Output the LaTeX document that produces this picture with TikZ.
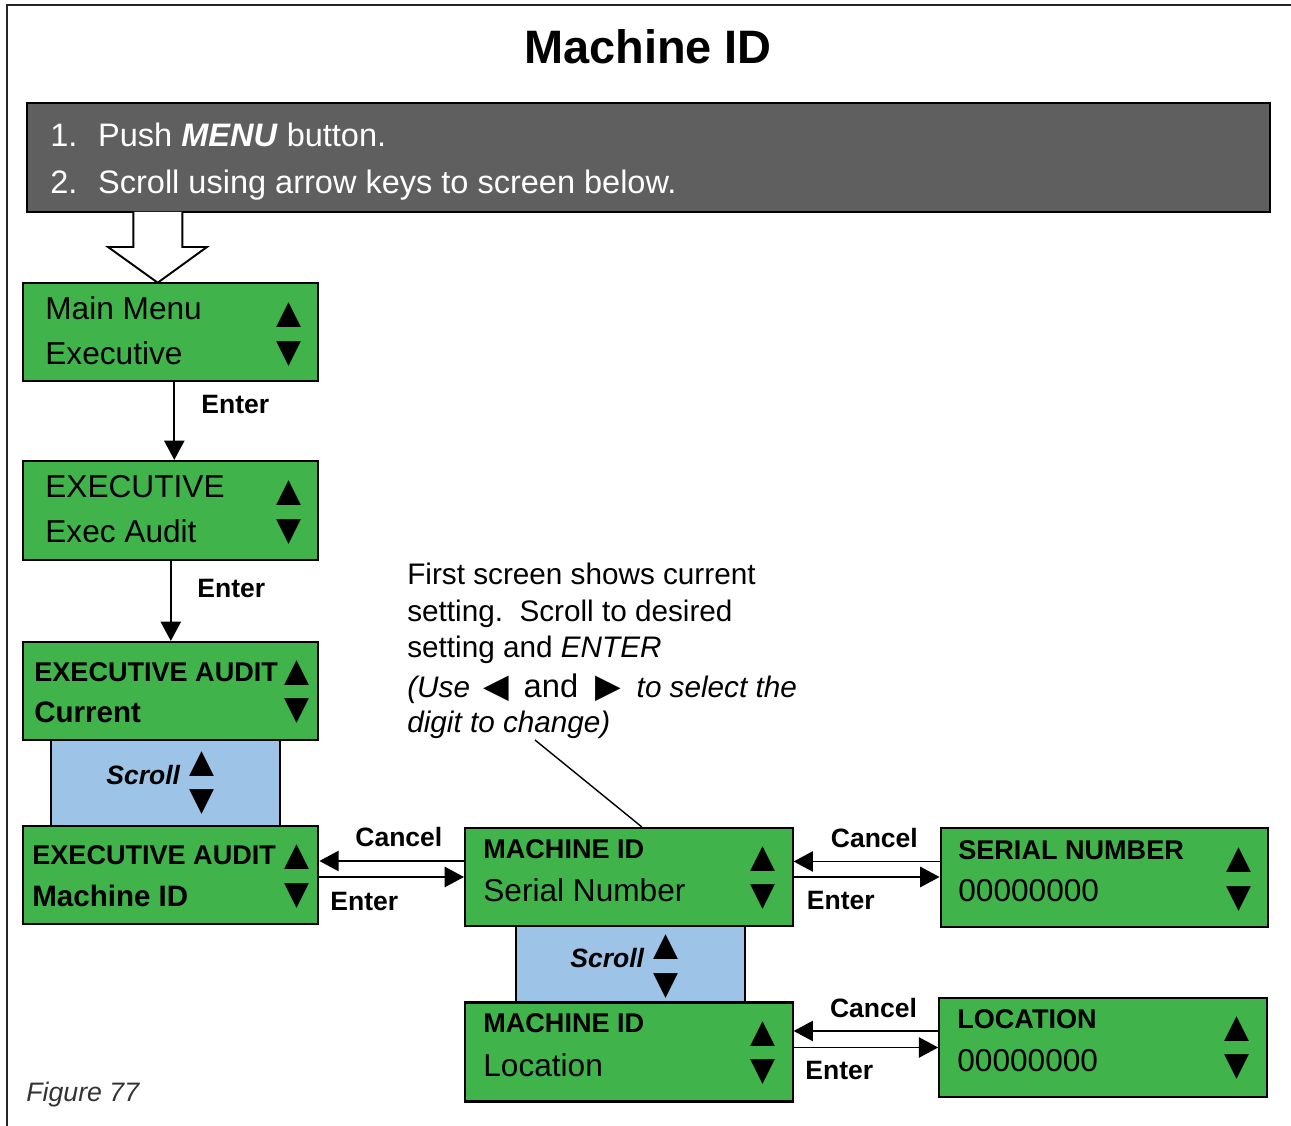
\documentclass[tikz,border=0pt]{standalone}
\usepackage{fontspec}
\setmainfont{Liberation Sans}
\newfontfamily\symfont{DejaVu Sans}
\usepackage{xcolor}
\usetikzlibrary{arrows.meta,calc}
\definecolor{scrgreen}{RGB}{64,180,74}
\definecolor{scrblue}{RGB}{157,195,230}
\definecolor{bargray}{RGB}{95,95,95}

\begin{document}
\begin{tikzpicture}[
  screen/.style={draw=black, fill=scrgreen, line width=1.2pt, minimum width=5.9cm, minimum height=1.96cm, inner sep=0pt},
  scrollbox/.style={draw=black, fill=scrblue, line width=1.2pt, minimum width=4.58cm, inner sep=0pt},
  big/.style={anchor=base west, inner sep=0pt, font=\fontsize{18}{21}\selectfont},
  head/.style={anchor=base west, inner sep=0pt, font=\bfseries\fontsize{15.4}{18}\selectfont},
  headbig/.style={anchor=base west, inner sep=0pt, font=\bfseries\fontsize{16.8}{19}\selectfont},
  tri/.style={inner sep=0pt, font=\symfont\fontsize{18.5}{18.5}\selectfont},
  lbl/.style={anchor=base west, inner sep=0pt, font=\bfseries\fontsize{15.1}{18}\selectfont},
  arrow/.style={-{Triangle[length=11pt,width=11.5pt]}, line width=1.1pt},
]

\useasboundingbox (0,0) rectangle (25.82,22.52);
\draw[line width=1.1pt, black!85] (0.14,0) -- (0.14,22.42) -- (25.82,22.42);

\node[anchor=base, inner sep=0pt, font=\bfseries\fontsize{26.7}{30}\selectfont] (title) at (12.96,21.254) {Machine ID};

\node[draw=black, fill=bargray, line width=1.2pt, minimum width=24.866cm, minimum height=2.174cm, inner sep=0pt] (bar) at (12.967,19.367) {};
\node[anchor=base west, inner sep=0pt, text=white, font=\fontsize{18.5}{26.5}\selectfont] (steps) at (1.00,19.586) {%
  \begin{tabular}[t]{@{}l@{\hspace{11.8pt}}l@{}}
  1. & Push \textbf{\textit{MENU}} button.\\
  2. & Scroll using arrow keys to screen below.
  \end{tabular}};

\draw[line width=1.1pt, fill=white] (2.666,18.28) -- (2.666,17.58) -- (2.16,17.58) -- (3.154,16.866)
  -- (4.14,17.58) -- (3.646,17.58) -- (3.646,18.28);

% scroll boxes first, screens on top
\node[scrollbox, minimum height=1.72cm] (c1) at (3.31,6.86) {};
\node[scrollbox, minimum height=1.52cm] (c2) at (12.602,3.24) {};

\node[screen] (s1) at (3.416,15.872) {};
\node[screen, minimum height=1.98cm] (s2) at (3.416,12.31) {};
\node[screen] (s3) at (3.416,8.70) {};
\node[screen] (s4) at (3.416,5.02) {};
\node[screen, minimum width=6.55cm] (m1) at (12.576,4.98) {};
\node[screen, minimum width=6.55cm, minimum height=1.98cm] (m2) at (12.576,1.48) {};
\node[screen, minimum width=6.55cm, minimum height=1.98cm] (v1) at (22.087,4.97) {};
\node[screen, minimum width=6.55cm, minimum height=1.98cm] (v2) at (22.06,1.57) {};

% screen texts
\node[big] (s1a) at (0.90,16.12) {Main Menu};
\node[big] (s1b) at (0.90,15.22) {Executive};
\node[tri] (s1u) at (5.77,16.21) {▲};
\node[tri] (s1d) at (5.77,15.44) {▼};

\node[big] (s2a) at (0.90,12.566) {EXECUTIVE};
\node[big] (s2b) at (0.90,11.666) {Exec Audit};
\node[tri] (s2u) at (5.77,12.66) {▲};
\node[tri] (s2d) at (5.77,11.87) {▼};

\node[head] (s3a) at (0.68,8.88) {EXECUTIVE AUDIT};
\node[headbig] (s3b) at (0.68,8.06) {Current};
\node[tri] (s3u) at (5.93,9.06) {▲};
\node[tri] (s3d) at (5.93,8.29) {▼};

\node[lbl] (c1a) at (2.12,6.82) {\textit{Scroll}};
\node[tri] (c1u) at (4.05,7.24) {▲};
\node[tri] (c1d) at (4.05,6.47) {▼};

\node[head] (s4a) at (0.64,5.22) {EXECUTIVE AUDIT};
\node[headbig] (s4b) at (0.64,4.38) {Machine ID};
\node[tri] (s4u) at (5.93,5.37) {▲};
\node[tri] (s4d) at (5.93,4.59) {▼};

\node[head] (m1a) at (9.66,5.34) {MACHINE ID};
\node[big] (m1b) at (9.66,4.48) {Serial Number};
\node[tri] (m1u) at (15.26,5.34) {▲};
\node[tri] (m1d) at (15.26,4.57) {▼};

\node[lbl] (c2a) at (11.40,3.16) {\textit{Scroll}};
\node[tri] (c2u) at (13.32,3.57) {▲};
\node[tri] (c2d) at (13.32,2.79) {▼};

\node[head] (m2a) at (9.66,1.86) {MACHINE ID};
\node[big] (m2b) at (9.66,0.98) {Location};
\node[tri] (m2u) at (15.26,1.84) {▲};
\node[tri] (m2d) at (15.26,1.07) {▼};

\node[head] (v1a) at (19.16,5.32) {SERIAL NUMBER};
\node[big] (v1b) at (19.16,4.48) {00000000};
\node[tri] (v1u) at (24.77,5.32) {▲};
\node[tri] (v1d) at (24.77,4.54) {▼};

\node[head] (v2a) at (19.14,1.94) {LOCATION};
\node[big] (v2b) at (19.14,1.08) {00000000};
\node[tri] (v2u) at (24.74,1.94) {▲};
\node[tri] (v2d) at (24.74,1.17) {▼};

% connectors
\draw[arrow] ([xshift=0.07cm]s1.south) -- ([xshift=0.07cm]s1.south |- s2.north);
\draw[arrow] (s2.south) -- (s3.north);
\draw[arrow] (m1.west -| s4.east) -- (m1.west);
\draw[arrow] ($(m1.west)+(0,0.32)$) -- ($(m1.west -| s4.east)+(0,0.32)$);
\draw[arrow] (m1.east) -- (m1.east -| v1.west);
\draw[arrow] ($(v1.west)+(0,0.32)$) -- ($(v1.west -| m1.east)+(0,0.32)$);
\draw[arrow] (v2.west -| m2.east) -- (v2.west);
\draw[arrow] ($(v2.west)+(0,0.33)$) -- ($(v2.west -| m2.east)+(0,0.33)$);

\node[lbl] (e1) at (4.02,14.24) {Enter};
\node[lbl] (e2) at (3.94,10.56) {Enter};
\node[lbl] (k1) at (7.10,5.58) {Cancel};
\node[lbl] (e3) at (6.60,4.30) {Enter};
\node[lbl] (k2) at (16.61,5.56) {Cancel};
\node[lbl] (e4) at (16.13,4.32) {Enter};
\node[lbl] (k3) at (16.594,2.16) {Cancel};
\node[lbl] (e5) at (16.10,0.92) {Enter};

% note on the first screen
\node[anchor=base west, inner sep=0pt, font=\fontsize{16.9}{20.5}\selectfont] (note) at (8.14,10.82) {%
  \begin{tabular}[t]{@{}l@{}}
  First screen shows current\\
  setting.\ \ Scroll to desired\\
  setting and \textit{ENTER}\\[2.3pt]
  \textit{(Use}\hspace{7.4pt}{\symfont\fontsize{19}{20}\selectfont ◀}\hspace{8.5pt}{\fontsize{18.6}{20}\selectfont and}\hspace{9.7pt}{\symfont\fontsize{19}{20}\selectfont ▶}\hspace{9pt}\textit{to select the}\\[-0.6pt]
  \textit{digit to change)}
  \end{tabular}};
\coordinate (tail) at (10.70,7.72);
\draw[line width=0.8pt] (tail) -- ([xshift=0.26cm]m1.north);

\node[anchor=base west, inner sep=0pt, text=black!80, font=\itshape\fontsize{15.2}{18}\selectfont] (fig) at (0.52,0.486) {Figure 77};

\end{tikzpicture}
\end{document}
